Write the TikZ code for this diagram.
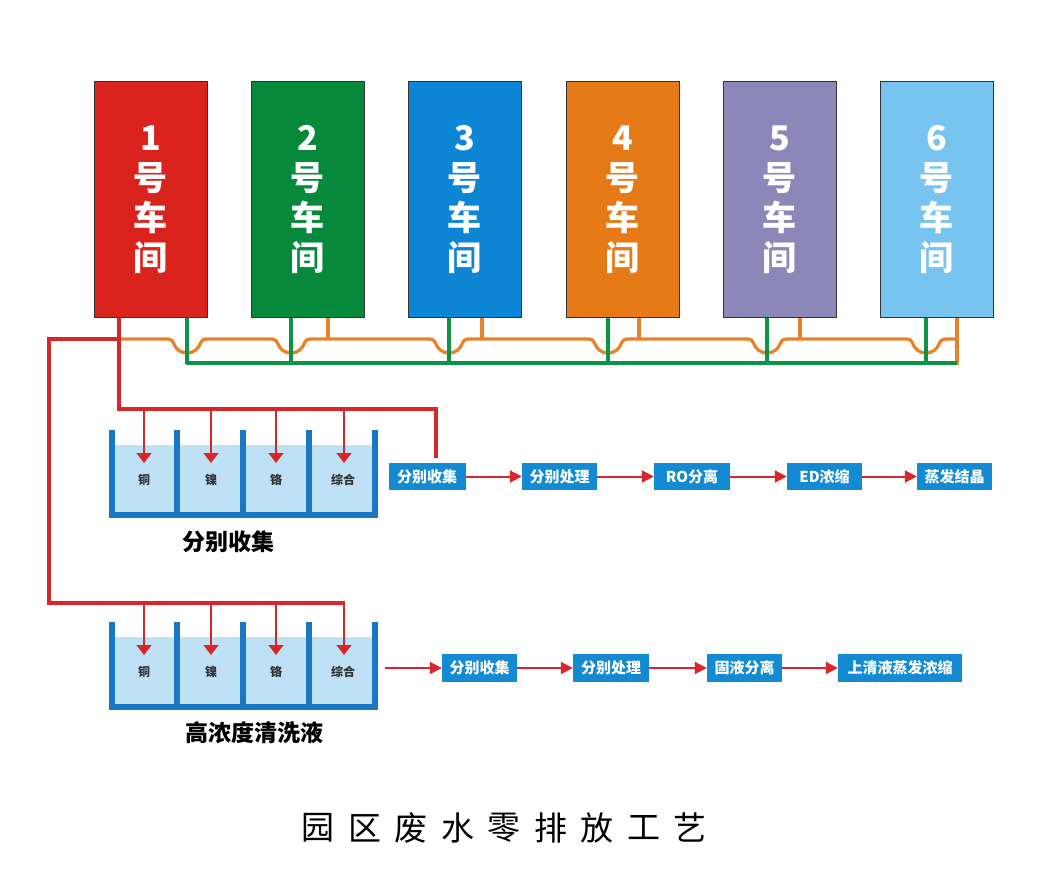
\documentclass[tikz,border=0pt]{standalone}
\usepackage{fontspec}
\setmainfont{Liberation Sans}
\newfontfamily\cjk{Noto Sans CJK SC}
\usetikzlibrary{arrows.meta}
\definecolor{cA}{HTML}{D9231C}
\definecolor{cB}{HTML}{07893C}
\definecolor{cC}{HTML}{0C85D4}
\definecolor{cD}{HTML}{E57A17}
\definecolor{cE}{HTML}{8D86B9}
\definecolor{cF}{HTML}{76C4EF}
\definecolor{boxline}{HTML}{333333}
\definecolor{procblue}{HTML}{138AD2}
\definecolor{redL}{HTML}{D8262A}
\definecolor{orangeL}{HTML}{E8822A}
\definecolor{greenL}{HTML}{0E9243}
\definecolor{tankblue}{HTML}{1A78C2}
\definecolor{water}{HTML}{BFE1F5}
\definecolor{lblgray}{HTML}{333333}
\begin{document}
\begin{tikzpicture}[x=1pt,y=-1pt,
 shop/.style={draw=boxline, line width=1pt, minimum width=113pt, minimum height=236pt, inner sep=0pt, text=white, align=center, font=\cjk\bfseries\fontsize{34}{40}\selectfont},
 proc/.style={fill=procblue, minimum height=27pt, inner sep=0pt, text=white, font=\cjk\bfseries\fontsize{15}{15}\selectfont},
 flow/.style={draw=redL, line width=2pt, -{Triangle[length=12pt,width=12pt]}},
 pipe/.style={line width=3.3pt, line join=round},
 drop/.style={draw=redL, line width=1.3pt, -{Triangle[length=10pt,width=15pt]}},
 tanklbl/.style={font=\cjk\bfseries\fontsize{12}{12}\selectfont, text=lblgray},
 caption/.style={font=\cjk\bfseries\fontsize{23}{23}\selectfont, text=black},
 titlech/.style={font=\cjk\fontsize{33}{33}\selectfont, text=black},
 ]
\useasboundingbox[fill=white] (0,0) rectangle (1046,890);

% workshops
\node[shop, fill=cA] (s1) at (150.5,200) {1\\号\\车\\间};
\node[shop, fill=cB] (s2) at (307.5,200) {2\\号\\车\\间};
\node[shop, fill=cC] (s3) at (464.5,200) {3\\号\\车\\间};
\node[shop, fill=cD] (s4) at (622.5,200) {4\\号\\车\\间};
\node[shop, fill=cE] (s5) at (779.5,200) {5\\号\\车\\间};
\node[shop, fill=cF] (s6) at (936.5,200) {6\\号\\车\\间};

% orange pipe with hops
\draw[pipe, orangeL] (119,339)
  foreach \x in {187,291,449,608,767,926} {
    -- ({\x-20},339) .. controls ({\x-16},339) and ({\x-14},341) .. ({\x-13.5},343)
    .. controls ({\x-11.5},349) and ({\x-6.5},353) .. (\x,353)
    .. controls ({\x+6.5},353) and ({\x+11.5},349) .. ({\x+13.5},343)
    .. controls ({\x+14},341) and ({\x+16},339) .. ({\x+20},339) }
  -- (957,339);
\draw[pipe, orangeL] (328,0 |- s2.south) -- (328,339);
\draw[pipe, orangeL] (482,0 |- s3.south) -- (482,339);
\draw[pipe, orangeL] (639,0 |- s4.south) -- (639,339);
\draw[pipe, orangeL] (800,0 |- s5.south) -- (800,339);
\draw[pipe, orangeL] (957,0 |- s6.south) -- (957,365);

% green pipe
\draw[pipe, greenL] (187,0 |- s1.south) -- (187,363) -- (957,363);
\draw[pipe, greenL] (291,0 |- s2.south) -- (291,363);
\draw[pipe, greenL] (449,0 |- s3.south) -- (449,363);
\draw[pipe, greenL] (608,0 |- s4.south) -- (608,363);
\draw[pipe, greenL] (767,0 |- s5.south) -- (767,363);
\draw[pipe, greenL] (926,0 |- s6.south) -- (926,363);

% tanks
\foreach \t in {430,622} {
  \fill[water] (112,\t+15) rectangle (375,\t+85);
  \foreach \w in {112,177,243,309,375}
    \fill[tankblue] (\w-3,\t) rectangle (\w+3,\t+88);
  \fill[tankblue] (109,\t+82) rectangle (378,\t+88);
}

% tank labels
\node[tanklbl] (a1) at (144,480) {铜};
\node[tanklbl] (a2) at (211,480) {镍};
\node[tanklbl] (a3) at (276,480) {铬};
\node[tanklbl] (a4) at (343,480) {综合};
\node[tanklbl] (b1) at (144,672) {铜};
\node[tanklbl] (b2) at (211,672) {镍};
\node[tanklbl] (b3) at (276,672) {铬};
\node[tanklbl] (b4) at (343,672) {综合};
\node[caption] (capA) at (228,542) {分别收集};
\node[caption] (capB) at (254,733) {高浓度清洗液};

% process row 1
\node[proc, minimum width=77pt] (p1) at (427,476.5) {分别收集};
\node[proc, minimum width=75pt] (p2) at (559.5,476.5) {分别处理};
\node[proc, minimum width=76pt] (p3) at (692,476.5) {RO分离};
\node[proc, minimum width=75pt] (p4) at (824.5,476.5) {ED浓缩};
\node[proc, minimum width=75pt] (p5) at (954.5,476.5) {蒸发结晶};
\draw[flow] (p1) -- (p2);
\draw[flow] (p2) -- (p3);
\draw[flow] (p3) -- (p4);
\draw[flow] (p4) -- (p5);

% process row 2
\node[proc, minimum width=75pt, minimum height=28pt] (q1) at (479.5,668) {分别收集};
\node[proc, minimum width=76pt, minimum height=28pt] (q2) at (611,668) {分别处理};
\node[proc, minimum width=75pt, minimum height=28pt] (q3) at (744.5,668) {固液分离};
\node[proc, minimum width=124pt, minimum height=28pt] (q4) at (900,668) {上清液蒸发浓缩};
\coordinate (q0) at (385,668);
\draw[flow] (q0) -- (q1);
\draw[flow] (q1) -- (q2);
\draw[flow] (q2) -- (q3);
\draw[flow] (q3) -- (q4);

% red pipes
\draw[pipe, redL, line join=miter] (119,0 |- s1.south) -- (119,409) -- (436,409) -- (436,0 |- p1.north) [shorten >=5pt];
\draw[pipe, redL, line join=miter] (119,339) -- (49,339) -- (49,603) -- (345,603);
\foreach \x in {144,211,276,344}
  \draw[drop] (\x,409) -- (\x,463);
\foreach \x in {144,211,276,344}
  \draw[drop] (\x,603) -- (\x,655);

% title
\foreach \ch [count=\k] in {园,区,废,水,零,排,放,工,艺}
  \node[titlech] (t\k) at ({318+46.5*(\k-1)},828) {\ch};
\end{tikzpicture}
\end{document}
